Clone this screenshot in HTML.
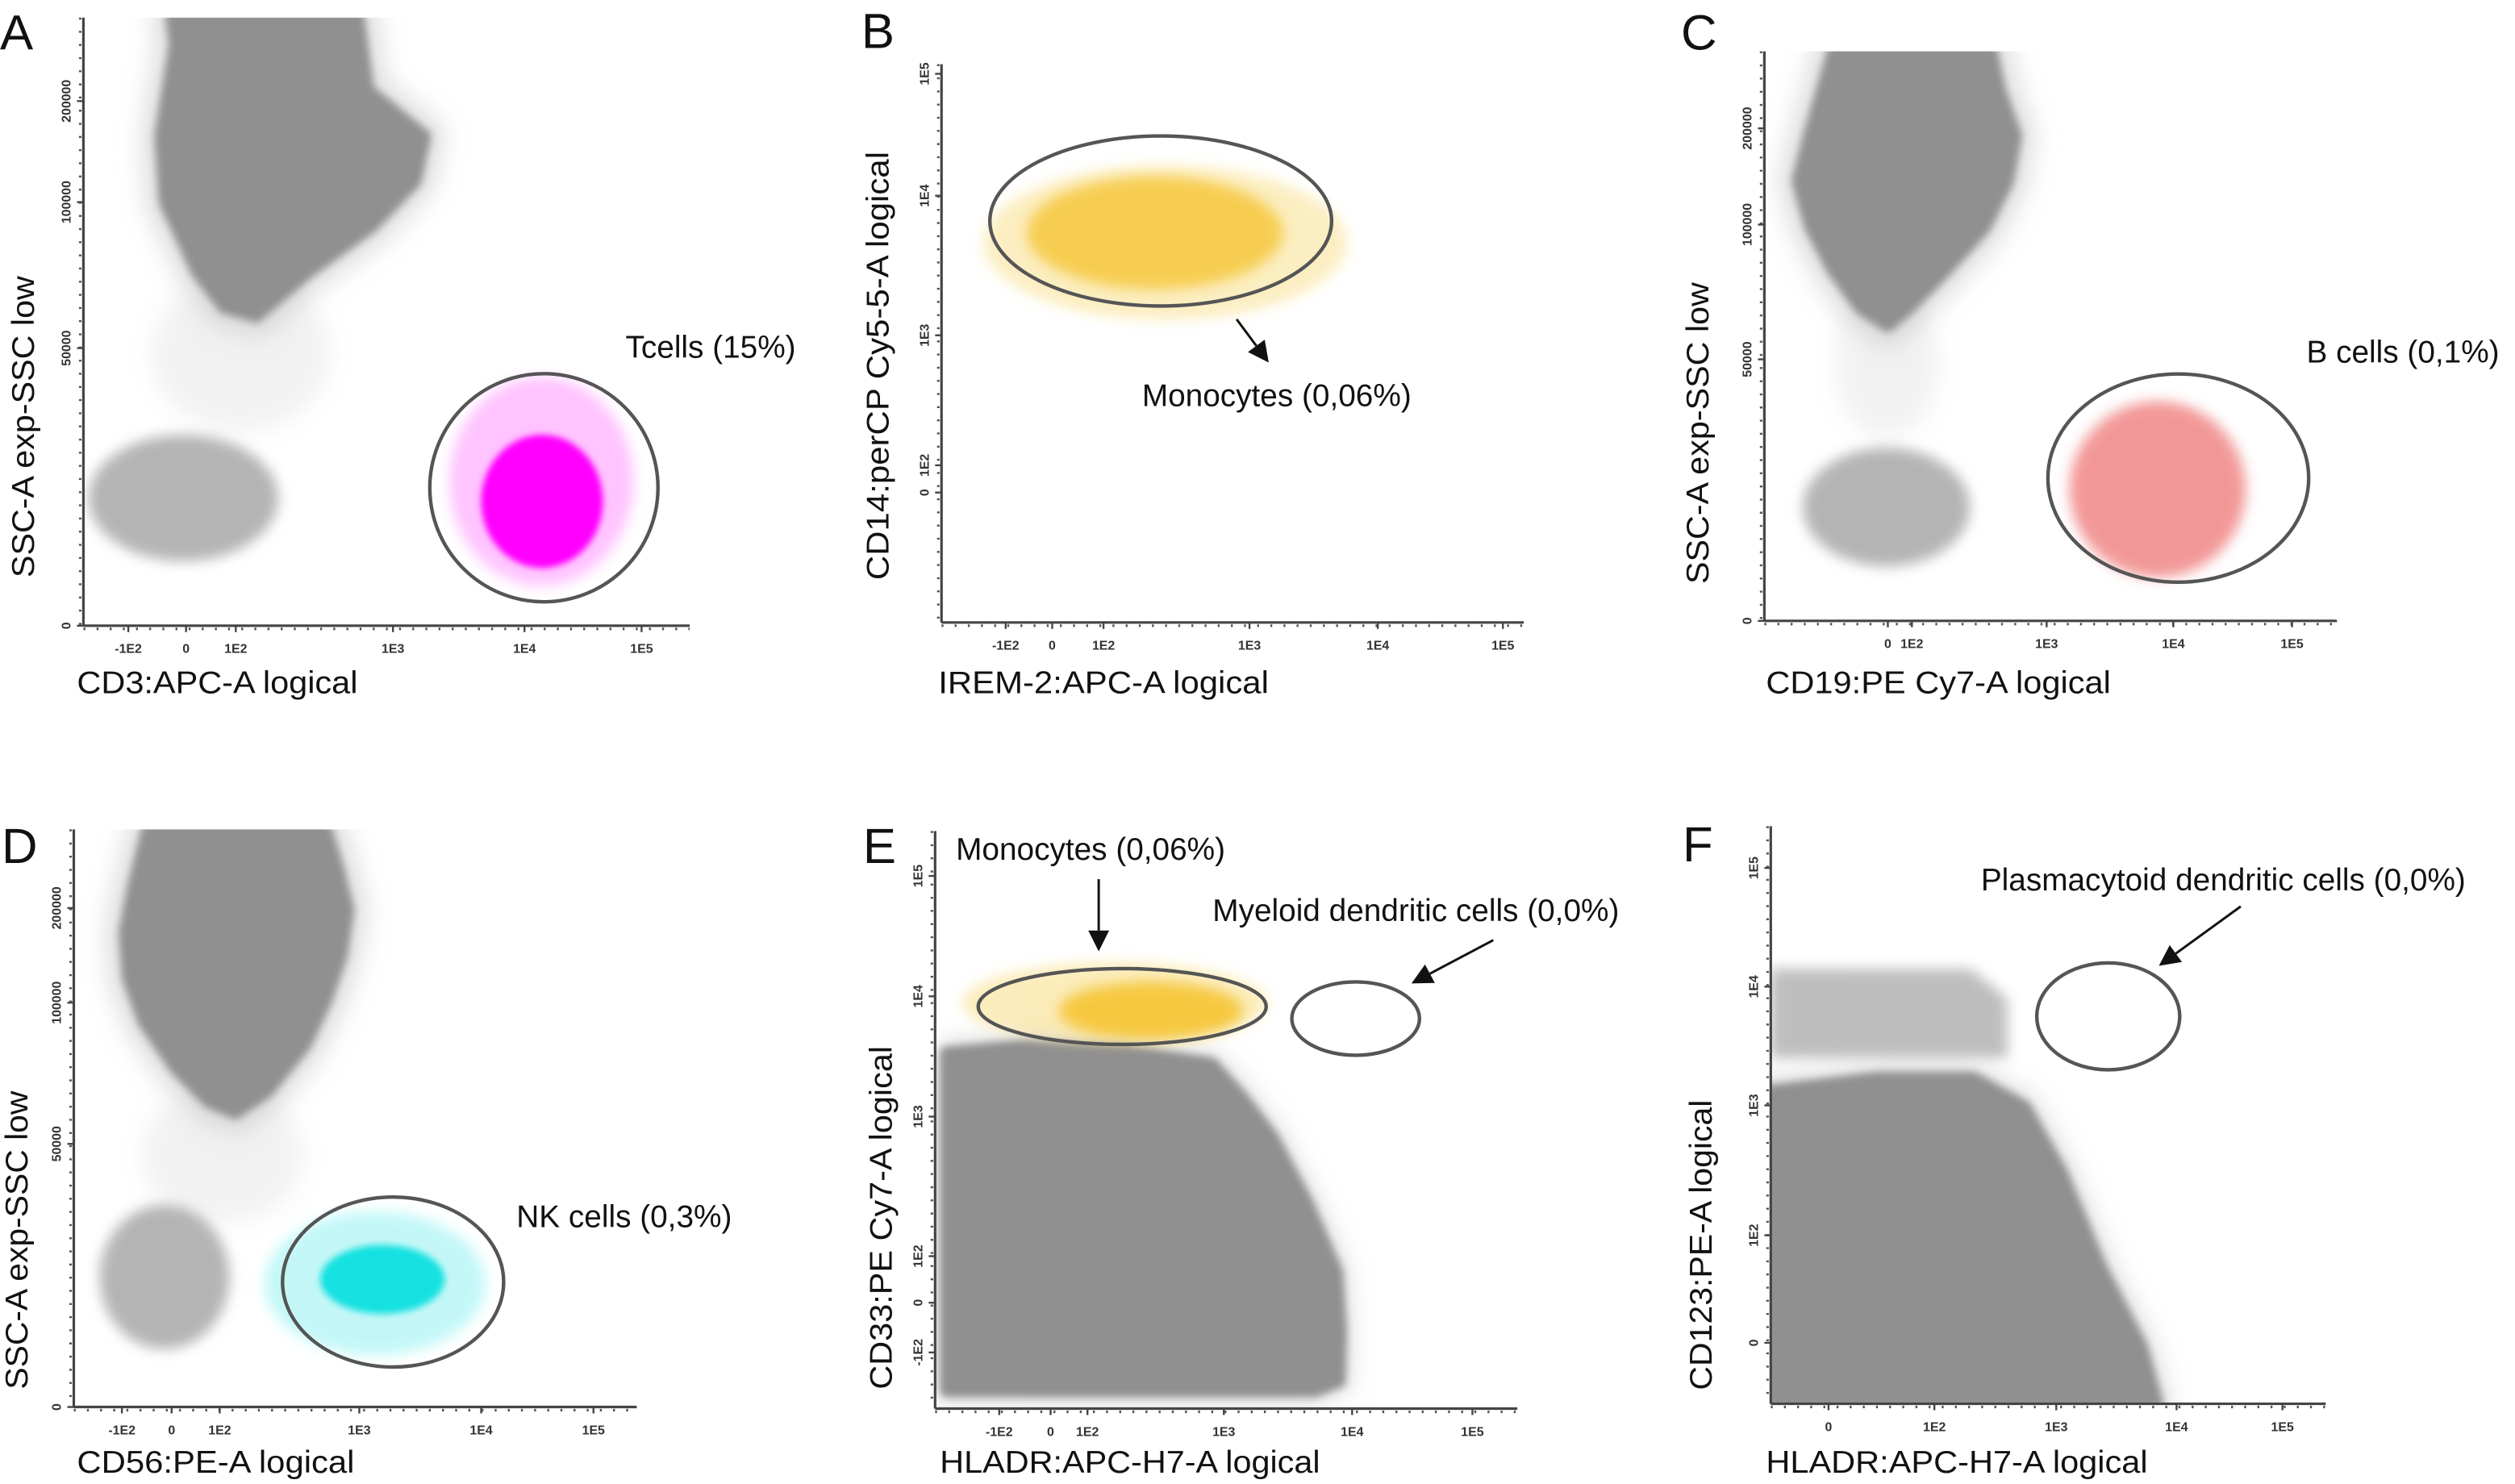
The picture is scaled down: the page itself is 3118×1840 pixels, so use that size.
<!DOCTYPE html>
<html><head><meta charset="utf-8">
<style>
html,body{margin:0;padding:0;background:#fff;}
svg{display:block;}
text{font-family:"Liberation Sans",Arial,sans-serif;fill:#111;}
.tick{font-size:8px;fill:#333;font-weight:bold;}
</style></head>
<body>
<svg id="fig" xmlns="http://www.w3.org/2000/svg" width="3118" height="1840" viewBox="0 0 1568 925" preserveAspectRatio="none">
<defs>
<filter id="fCore" x="-20%" y="-20%" width="140%" height="140%"><feGaussianBlur stdDeviation="2.6"/></filter>
<filter id="fHalo" x="-30%" y="-30%" width="160%" height="160%"><feGaussianBlur stdDeviation="7"/></filter>
<filter id="fSoft" x="-30%" y="-30%" width="160%" height="160%"><feGaussianBlur stdDeviation="4"/></filter>
<filter id="fDense" x="-20%" y="-20%" width="140%" height="140%"><feGaussianBlur stdDeviation="2"/></filter>
</defs>
<g font-size="31">
<text x="0" y="31">A</text>
<text x="537" y="30">B</text>
<text x="1048" y="31">C</text>
<text x="1" y="538">D</text>
<text x="538" y="538">E</text>
<text x="1049" y="537">F</text>
</g>
<g font-size="19.5">
<text x="48" y="432" textLength="175" lengthAdjust="spacingAndGlyphs">CD3:APC-A logical</text>
<text transform="translate(21,266) rotate(-90)" text-anchor="middle" textLength="188" lengthAdjust="spacingAndGlyphs">SSC-A exp-SSC low</text>
<text x="585" y="432" textLength="206" lengthAdjust="spacingAndGlyphs">IREM-2:APC-A logical</text>
<text transform="translate(554,228) rotate(-90)" text-anchor="middle" textLength="267" lengthAdjust="spacingAndGlyphs">CD14:perCP Cy5-5-A logical</text>
<text x="1101" y="432" textLength="215" lengthAdjust="spacingAndGlyphs">CD19:PE Cy7-A logical</text>
<text transform="translate(1065,270) rotate(-90)" text-anchor="middle" textLength="188" lengthAdjust="spacingAndGlyphs">SSC-A exp-SSC low</text>
<text x="48" y="918" textLength="173" lengthAdjust="spacingAndGlyphs">CD56:PE-A logical</text>
<text transform="translate(17,773) rotate(-90)" text-anchor="middle" textLength="186" lengthAdjust="spacingAndGlyphs">SSC-A exp-SSC low</text>
<text x="586" y="918" textLength="237" lengthAdjust="spacingAndGlyphs">HLADR:APC-H7-A logical</text>
<text transform="translate(556,759) rotate(-90)" text-anchor="middle" textLength="214" lengthAdjust="spacingAndGlyphs">CD33:PE Cy7-A logical</text>
<text x="1101" y="918" textLength="238" lengthAdjust="spacingAndGlyphs">HLADR:APC-H7-A logical</text>
<text transform="translate(1067,776) rotate(-90)" text-anchor="middle" textLength="181" lengthAdjust="spacingAndGlyphs">CD123:PE-A logical</text>
</g>
<g font-size="19.5">
<text x="390" y="223">Tcells (15%)</text>
<text x="712" y="253">Monocytes (0,06%)</text>
<text x="1438" y="226">B cells (0,1%)</text>
<text x="322" y="765">NK cells (0,3%)</text>
<text x="596" y="536">Monocytes (0,06%)</text>
<text x="756" y="574">Myeloid dendritic cells (0,0%)</text>
<text x="1235" y="555">Plasmacytoid dendritic cells (0,0%)</text>
</g>
<g id="plots"></g>
<g id="arrows"></g>
</svg>
<script>
const logTicks6=[-1,0,1,2,3,4];
const logTicks5=[0,1,2,3,4];
const logLabels6=['-1E2','0','1E2','1E3','1E4','1E5'];
const logLabels5=['0','1E2','1E3','1E4','1E5'];
const sscTicks=[0,50,100,200];
const sscLabels=['0','50000','100000','200000'];

// Panel A
const aGranX=[-0.25,-0.19,-0.44,-0.36,0.23,0.77,1.13,1.46,1.87,2.17,2.24,1.84,1.78];
const aGranY=[282,256,165,100,76,64,61,76,92,121,165,211,282];
const aLymph=[-1.69,1.27,11.6,34.4];
const aTcellSparse=[2.43,3.93,7.2,44.8];
const aTcellDense=[2.67,3.67,10.4,34.4];
const aGate=[2.28,4.14,4.3,45.4];
// Panel B
const bMonoSparse=[-1.48,2.76,2.11,3.25];
const bMonoDense=[-0.55,2.26,2.33,3.16];
const bGate=[-1.34,2.64,2.21,3.49];
// Panel C
const cGranX=[-2.27,-3.27,-3.73,-3.2,-2.27,-1.13,0,0.87,1.25,1.54,1.71,1.77,1.65,1.59];
const cGranY=[280,192,145,99,83,69,62.5,69,83,99,145,192,240,280];
const cLymph=[-3.53,1.43,10.4,33.1];
const cBcells=[2.18,3.61,8.3,42];
const cGate=[2.01,4.14,7.4,47.2];
// Panel D
const dGranX=[-0.48,-0.77,-0.94,-0.87,-0.55,0.1,0.77,1.11,1.34,1.61,1.76,1.87,1.92,1.84,1.76];
const dGranY=[283,221,174,126,93,76.5,65,61,68.5,85,102,150,198,245,283];
const dLymph=[-1.45,1.07,11,38.4];
const dNkSparse=[1.32,3.04,9.8,37.2];
const dNkDense=[1.72,2.7,17.7,30.8];
const dGate=[1.45,3.2,7.6,39.9];
// Panel E
const eMassX=[-2.03,-0.47,1.26,1.91,2.15,2.38,2.65,2.88,2.91,2.9,2.71,-2.03];
const eMassY=[2.53,2.59,2.55,2.44,2.15,1.85,1.38,0.66,-0.58,-1.58,-1.77,-1.77];
const eMonoSparse=[-1.72,2.34,2.61,3.28];
const eMonoDense=[0.22,2.15,2.64,3.12];
const eMonoGate=[-1.41,2.33,2.6,3.23];
const eMyeloidGate=[2.53,3.56,2.51,3.12];
// Panel F
const fMassX=[-0.55,0.45,1.32,1.74,2.04,2.37,2.71,2.84,-0.55];
const fMassY=[2.12,2.23,2.23,1.99,1.49,0.70,-0.04,-0.57,-0.57];
const fBandX=[-0.55,1.3,1.6,1.6,-0.55];
const fBandY=[3.15,3.15,2.9,2.4,2.4];
const fGate=[1.84,3.03,2.3,3.2];

const NS='http://www.w3.org/2000/svg';
function el(tag,attrs,parent){const e=document.createElementNS(NS,tag);for(const k in attrs)e.setAttribute(k,attrs[k]);if(parent)parent.appendChild(e);return e;}
function makeScale(vals,px){
  return function(v){
    let i=0;
    if(v<=vals[0])i=0;else if(v>=vals[vals.length-1])i=vals.length-2;else{while(v>vals[i+1])i++;}
    const t=(v-vals[i])/(vals[i+1]-vals[i]);
    return px[i]+t*(px[i+1]-px[i]);
  };
}
const panels={
 a:{ax:52,top:11,bottom:390,right:430,xt:logTicks6,xl:logLabels6,xp:[80,116,147,245,327,400],yt:sscTicks,yl:sscLabels,yp:[390,217,126,63]},
 b:{ax:587,top:40,bottom:388,right:950,xt:logTicks6,xl:logLabels6,xp:[627,656,688,779,859,937],yt:logTicks5,yl:logLabels5,yp:[307,290,209,122,46]},
 c:{ax:1100,top:32,bottom:387,right:1457,xt:logTicks5,xl:logLabels5,xp:[1177,1192,1276,1355,1429],yt:sscTicks,yl:sscLabels,yp:[387,224,140,80]},
 d:{ax:46,top:517,bottom:877,right:397,xt:logTicks6,xl:logLabels6,xp:[76,107,137,224,300,370],yt:sscTicks,yl:sscLabels,yp:[877,713,625,566]},
 e:{ax:583,top:518,bottom:878,right:946,xt:logTicks6,xl:logLabels6,xp:[623,655,678,763,843,918],yt:logTicks6,yl:logLabels6,yp:[843,812,783,696,621,546]},
 f:{ax:1104,top:515,bottom:875,right:1450,xt:logTicks5,xl:logLabels5,xp:[1140,1206,1282,1357,1423],yt:logTicks5,yl:logLabels5,yp:[837,770,689,615,541]}
};
const root=document.getElementById('plots');

function drawPanel(key){
  const P=panels[key];
  P.sx=makeScale(P.xt,P.xp); P.sy=makeScale(P.yt,P.yp);
  const g=el('g',{},root);
  
  
  const cp=el('clipPath',{id:'clip-'+key},g);
  el('rect',{x:P.ax,y:P.top,width:P.right-P.ax,height:P.bottom-P.top},cp);
  const data=el('g',{'clip-path':'url(#clip-'+key+')'},g);
  
  
  P.g=data; P.panel=g;
  return P;
}
function drawAxes(P,key){
  const g=el('g',{},P.panel);
  
  
  const xa=el('line',{x1:P.ax,y1:P.bottom,x2:P.right,y2:P.bottom,stroke:'#444','stroke-width':1.6},g);
  
  
  const ya=el('line',{x1:P.ax,y1:P.top,x2:P.ax,y2:P.bottom,stroke:'#444','stroke-width':1.6},g);
  
  
  el('line',{x1:P.ax,y1:P.bottom+2,x2:P.right,y2:P.bottom+2,stroke:'#555','stroke-width':1.6,'stroke-dasharray':'1.2 7'},g);
  el('line',{x1:P.ax-2,y1:P.top,x2:P.ax-2,y2:P.bottom,stroke:'#555','stroke-width':1.6,'stroke-dasharray':'1.2 7'},g);
  P.xt.forEach((v,i)=>{
    const x=P.sx(v);
    el('line',{x1:x,y1:P.bottom,x2:x,y2:P.bottom+4,stroke:'#444','stroke-width':1.2},g);
    const t=el('text',{x:x,y:P.bottom+17,'text-anchor':'middle',class:'tick'},g);
    
    
    t.textContent=P.xl[i];
  });
  P.yt.forEach((v,i)=>{
    const y=P.sy(v);
    el('line',{x1:P.ax-4,y1:y,x2:P.ax,y2:y,stroke:'#444','stroke-width':1.2},g);
    const t=el('text',{transform:'translate('+(P.ax-8)+','+y+') rotate(-90)','text-anchor':'middle',class:'tick'},g);
    
    
    t.textContent=P.yl[i];
  });
}
function polyPts(P,xs,ys){return xs.map((x,i)=>P.sx(x).toFixed(1)+','+P.sy(ys[i]).toFixed(1)).join(' ');}
function grayMass(P,xs,ys,name,haloW){
  const pts=polyPts(P,xs,ys);
  const h=el('polygon',{points:pts,fill:'#c4c4c4',stroke:'#c4c4c4','stroke-width':haloW,'stroke-linejoin':'round',opacity:0.5,filter:'url(#fHalo)'},P.g);
  
  
  const c=el('polygon',{points:pts,fill:'#909090',stroke:'#909090','stroke-width':8,'stroke-linejoin':'round',filter:'url(#fCore)'},P.g);
  
  
}
function blob(P,b,fill,op,filt,name,rot){
  const x0=P.sx(b[0]),x1=P.sx(b[1]),y0=P.sy(b[2]),y1=P.sy(b[3]);
  const cx=(x0+x1)/2,cy=(y0+y1)/2;
  const e=el('ellipse',{cx:cx,cy:cy,rx:Math.abs(x1-x0)/2,ry:Math.abs(y1-y0)/2,fill:fill,opacity:op,filter:'url(#'+filt+')'},P.g);
  if(rot)e.setAttribute('transform','rotate('+rot+' '+cx+' '+cy+')');
  
  
  return e;
}
function gate(P,b,name){
  const x0=P.sx(b[0]),x1=P.sx(b[1]),y0=P.sy(b[2]),y1=P.sy(b[3]);
  const e=el('ellipse',{cx:(x0+x1)/2,cy:(y0+y1)/2,rx:Math.abs(x1-x0)/2,ry:Math.abs(y1-y0)/2,fill:'none',stroke:'#555','stroke-width':2.2},P.panel);
  
  
}

let P=drawPanel('a');
blob(P,[-0.6,1.6,35,75],'#d4d4d4',0.3,'fHalo','scatter-bridge-a');
blob(P,aLymph,'#a2a2a2',0.8,'fSoft','lymphocytes-a');
grayMass(P,aGranX,aGranY,'granulocytes-a',26);
blob(P,aTcellSparse,'#ff88ff',0.5,'fSoft','tcells-sparse');
blob(P,aTcellDense,'#ff00ff',1,'fDense','tcells-dense');
drawAxes(P,'a'); gate(P,aGate,'tcells-gate');

P=drawPanel('b');
blob(P,bMonoSparse,'#f8da78',0.45,'fSoft','monocytes-sparse-b');
blob(P,bMonoDense,'#f5c020',0.7,'fSoft','monocytes-dense-b');
drawAxes(P,'b'); gate(P,bGate,'monocytes-gate-b');

P=drawPanel('c');
blob(P,[-2.2,1.2,35,75],'#d4d4d4',0.3,'fHalo','scatter-bridge-c');
blob(P,cLymph,'#a2a2a2',0.8,'fSoft','lymphocytes-c');
grayMass(P,cGranX,cGranY,'granulocytes-c',26);
blob(P,cBcells,'#e63030',0.5,'fSoft','bcells-cloud',-38);
drawAxes(P,'c'); gate(P,cGate,'bcells-gate');

P=drawPanel('d');
blob(P,[-0.6,1.6,35,70],'#d4d4d4',0.3,'fHalo','scatter-bridge-d');
blob(P,dLymph,'#a2a2a2',0.8,'fSoft','lymphocytes-d');
grayMass(P,dGranX,dGranY,'granulocytes-d',26);
blob(P,dNkSparse,'#88f0f0',0.5,'fSoft','nkcells-sparse');
blob(P,dNkDense,'#10e0e0',0.95,'fDense','nkcells-dense');
drawAxes(P,'d'); gate(P,dGate,'nkcells-gate');

P=drawPanel('e');
grayMass(P,eMassX,eMassY,'cd33-mass-e',16);
blob(P,eMonoSparse,'#f8da78',0.5,'fSoft','monocytes-sparse-e');
blob(P,eMonoDense,'#f5c020',0.8,'fSoft','monocytes-dense-e');
drawAxes(P,'e'); gate(P,eMonoGate,'monocytes-gate-e'); gate(P,eMyeloidGate,'myeloid-dc-gate');

P=drawPanel('f');
const band=el('polygon',{points:polyPts(P,fBandX,fBandY),fill:'#a8a8a8',opacity:0.75,filter:'url(#fSoft)'},P.g);


grayMass(P,fMassX,fMassY,'hladr-mass-f',18);
drawAxes(P,'f'); gate(P,fGate,'plasmacytoid-dc-gate');

const arrowsG=document.getElementById('arrows');
function arrow(x1,y1,x2,y2,name){
  const g=el('g',{},arrowsG);
  
  
  const dx=x2-x1,dy=y2-y1,L=Math.hypot(dx,dy),ux=dx/L,uy=dy/L,hl=13,hw=6.5;
  const bx=x2-ux*hl,by=y2-uy*hl;
  el('line',{x1:x1,y1:y1,x2:bx,y2:by,stroke:'#111','stroke-width':1.5},g);
  el('polygon',{points:x2+','+y2+' '+(bx-uy*hw)+','+(by+ux*hw)+' '+(bx+uy*hw)+','+(by-ux*hw),fill:'#111'},g);
}
arrow(771,199,791,226,'arrow-monocytes-b');
arrow(685,548,685,593,'arrow-monocytes-e');
arrow(931,586,880,613,'arrow-myeloid-dc');
arrow(1397,565,1346,602,'arrow-plasmacytoid-dc');
</script>
</body></html>
